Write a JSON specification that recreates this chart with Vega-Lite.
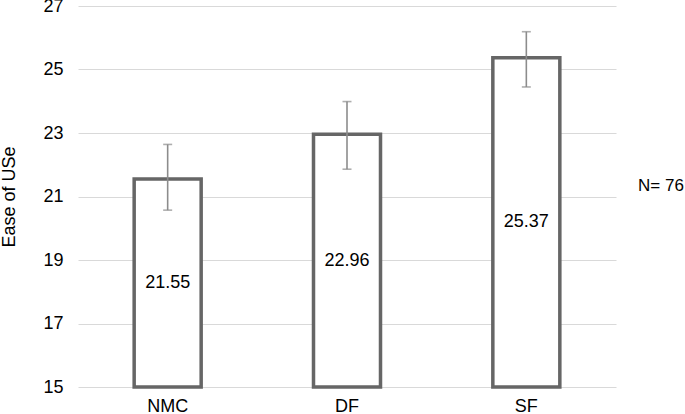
{
  "$schema": "https://vega.github.io/schema/vega-lite/v6.json",
  "width": 538,
  "height": 381,
  "autosize": "none",
  "padding": {"left": 78, "top": 6, "right": 69, "bottom": 27},
  "background": "white",
  "config": {
    "view": {"stroke": null},
    "font": "Liberation Sans"
  },
  "data": {
    "values": [
      {"group": "NMC", "value": 21.55, "lo": 20.57, "hi": 22.64},
      {"group": "DF", "value": 22.96, "lo": 21.86, "hi": 23.99},
      {"group": "SF", "value": 25.37, "lo": 24.45, "hi": 26.19}
    ]
  },
  "encoding": {
    "x": {
      "field": "group",
      "type": "nominal",
      "sort": null,
      "scale": {"paddingInner": 0, "paddingOuter": 0},
      "axis": {
        "title": null,
        "labelAngle": 0,
        "ticks": false,
        "domain": false,
        "labelPadding": 10,
        "labelFontSize": 18,
        "labelColor": "#000000",
        "labelFont": "Liberation Sans"
      }
    }
  },
  "resolve": {"scale": {"y": "independent"}, "axis": {"y": "independent"}},
  "layer": [
    {
      "layer": [
        {
          "mark": {"type": "bar", "size": 67, "fill": "white", "strokeWidth": 3.5},
          "encoding": {
            "y": {
              "field": "value",
              "type": "quantitative",
              "scale": {"domain": [15, 27], "nice": false, "zero": false},
              "axis": {
                "title": "Ease of USe",
                "titleFontSize": 18,
                "titleFontWeight": "normal",
                "titleColor": "#000000",
                "titleFont": "Liberation Sans",
                "titlePadding": 24,
                "values": [15, 17, 19, 21, 23, 25, 27],
                "ticks": false,
                "domain": false,
                "labelPadding": 15,
                "labelFontSize": 18,
                "labelColor": "#000000",
                "labelFont": "Liberation Sans",
                "gridColor": "#d9d9d9",
                "gridWidth": 1
              }
            },
            "y2": {"datum": 15},
            "stroke": {
              "datum": "N= 76",
              "scale": {"range": ["#666666"]},
              "legend": {
                "title": null,
                "orient": "none",
                "legendX": 543,
                "legendY": 171,
                "symbolSize": 0,
                "symbolOpacity": 0,
                "symbolStrokeWidth": 0,
                "labelOffset": 0,
                "labelFontSize": 17,
                "labelColor": "#000000",
                "labelFont": "Liberation Sans"
              }
            }
          }
        },
        {
          "mark": {"type": "rule", "color": "#8c8c8c", "strokeWidth": 1.6},
          "encoding": {
            "y": {"field": "lo", "type": "quantitative"},
            "y2": {"field": "hi"}
          }
        },
        {
          "mark": {"type": "tick", "color": "#8c8c8c", "thickness": 1.6, "size": 9},
          "encoding": {
            "y": {"field": "lo", "type": "quantitative"}
          }
        },
        {
          "mark": {"type": "tick", "color": "#8c8c8c", "thickness": 1.6, "size": 9},
          "encoding": {
            "y": {"field": "hi", "type": "quantitative"}
          }
        }
      ]
    },
    {
      "mark": {"type": "text", "fontSize": 18, "color": "#000000", "font": "Liberation Sans", "baseline": "middle"},
      "encoding": {
        "y": {
          "field": "value",
          "type": "quantitative",
          "scale": {"domain": [15, 39], "nice": false, "zero": false},
          "axis": null
        },
        "text": {"field": "value", "type": "quantitative", "format": ".2f"}
      }
    }
  ]
}
